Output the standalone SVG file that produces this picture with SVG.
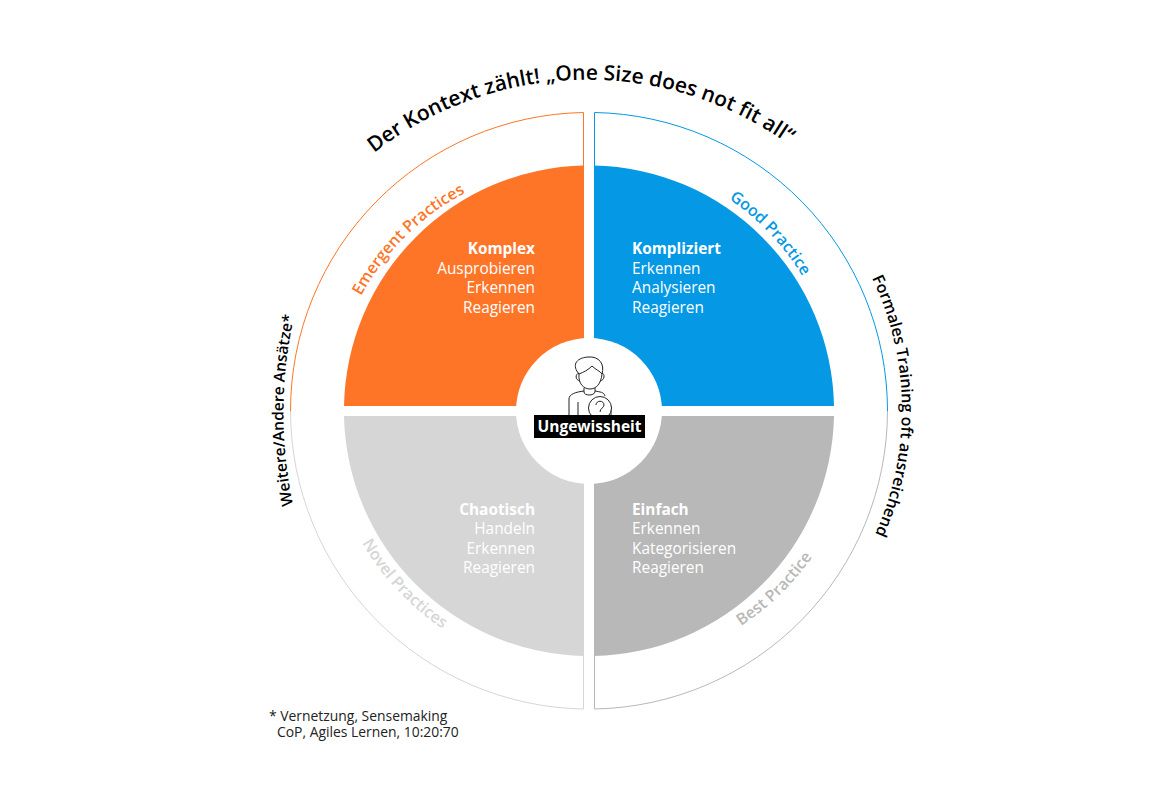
<svg xmlns="http://www.w3.org/2000/svg" width="1161" height="801" viewBox="0 0 1161 801">
<style>
text{font-family:"Open Sans","Liberation Sans",sans-serif}
.b{font-size:15.400px;fill:#fff}
.h{font-weight:700}
.e{text-anchor:end}
.c{font-size:16px;font-weight:600;fill:#000}
.l{font-size:16px;font-weight:600}
.o{fill:none;stroke-width:1}
</style>
<defs>
<path id="pT" d="M374 153A347 347 0 0 1 815 165"/>
<path id="pE" d="M361 296A250 250 0 0 1 475 188"/>
<path id="pG" d="M729 199A252 252 0 0 1 815 300"/>
<path id="pN" d="M362 543A263 263 0 0 0 465 642"/>
<path id="pB" d="M741 626A263 263 0 0 0 820 545"/>
<path id="pR" d="M872 278A304 304 0 0 1 870 545"/>
<path id="pL" d="M293 505A450 450 0 0 1 298 300"/>
</defs>
<rect width="1161" height="801" fill="#fff"/>
<g id="connectors"/>
<g id="outer-komplex"><path class="o" stroke="#ff7527" d="M290.500 411A298.500 298.500 0 0 1 583.500 112.500V166"/></g>
<g id="outer-kompliziert"><path class="o" stroke="#0498e5" d="M887.500 411A298.500 298.500 0 0 0 594.500 112.500V166"/></g>
<g id="outer-chaotisch"><path class="o" stroke="#d6d6d6" d="M290.500 411A298.500 298.500 0 0 0 583.500 709V656"/></g>
<g id="outer-einfach"><path class="o" stroke="#b8b8b8" d="M887.500 411A298.500 298.500 0 0 1 594.500 709V656"/></g>
<g id="komplex">
<path fill="#ff7527" d="M344 406A245 245 0 0 1 584 165.500V406Z"/>
<text class="b h e" x="535" y="254">Komplex</text>
<text class="b e" x="535" y="274">Ausprobieren</text>
<text class="b e" x="535" y="293">Erkennen</text>
<text class="b e" x="535" y="313">Reagieren</text>
<text class="l" fill="#ff7527"><textPath href="#pE">Emergent Practices</textPath></text>
</g>
<g id="kompliziert">
<path fill="#0498e5" d="M834 406A245 245 0 0 0 594 165.500V406Z"/>
<text class="b h" x="632" y="254">Kompliziert</text>
<text class="b" x="632" y="274">Erkennen</text>
<text class="b" x="632" y="293">Analysieren</text>
<text class="b" x="632" y="313">Reagieren</text>
<text class="l" fill="#0498e5"><textPath href="#pG">Good Practice</textPath></text>
</g>
<g id="chaotisch">
<path fill="#d6d6d6" d="M344 416A245 245 0 0 0 584 656V416Z"/>
<text class="b h e" x="535" y="515">Chaotisch</text>
<text class="b e" x="535" y="534">Handeln</text>
<text class="b e" x="535" y="554">Erkennen</text>
<text class="b e" x="535" y="573">Reagieren</text>
<text class="l" fill="#d6d6d6"><textPath href="#pN">Novel Practices</textPath></text>
</g>
<g id="einfach">
<path fill="#b8b8b8" d="M834 416A245 245 0 0 1 594 656V416Z"/>
<text class="b h" x="632" y="515">Einfach</text>
<text class="b" x="632" y="534">Erkennen</text>
<text class="b" x="632" y="554">Kategorisieren</text>
<text class="b" x="632" y="573">Reagieren</text>
<text class="l" fill="#b8b8b8"><textPath href="#pB">Best Practice</textPath></text>
</g>
<g id="ungewissheit">
<circle cx="589" cy="411" r="73" fill="#fff"/>
<g fill="none" stroke="#222" stroke-width="1">
<path d="M579 374C572 366 575 358 588 357C599 356 605 364 602 374C600 371 596 370 592 366C588 370 584 372 579 374Z"/>
<path d="M579 374C578 384 584 389 590 389C596 389 601 384 602 374"/>
<path d="M579 373C575 374 575 380 580 381M602 373C605 374 605 380 600 381"/>
<path d="M584 388V392C584 396 594 396 595 392V388"/>
<path d="M584 391C576 392 569 394 569 399V415M595 391C600 392 604 392 605 396"/>
<path d="M578 402V415M611 406V415"/>
<circle cx="600" cy="408" r="11.500" fill="#fff"/>
<path d="M596 405C596 400 604 400 604 405C604 408 600 408 600 412"/>
</g>
<rect x="534" y="415" width="111" height="23" fill="#000"/>
<text x="589.500" y="432" text-anchor="middle" font-size="15.500" font-weight="700" fill="#fff">Ungewissheit</text>
</g>
<g id="title"><text class="c" style="font-size:21px"><textPath href="#pT">Der Kontext zählt! „One Size does not fit all“</textPath></text></g>
<g id="right-label"><text class="c"><textPath href="#pR">Formales Training oft ausreichend</textPath></text></g>
<g id="left-label"><text class="c" style="font-size:15.500px"><textPath href="#pL">Weitere/Andere Ansätze*</textPath></text></g>
<g id="footnote" font-size="13.900" fill="#222">
<text x="269" y="721">* Vernetzung, Sensemaking</text>
<text x="277" y="737">CoP, Agiles Lernen, 10:20:70</text>
</g>
</svg>
